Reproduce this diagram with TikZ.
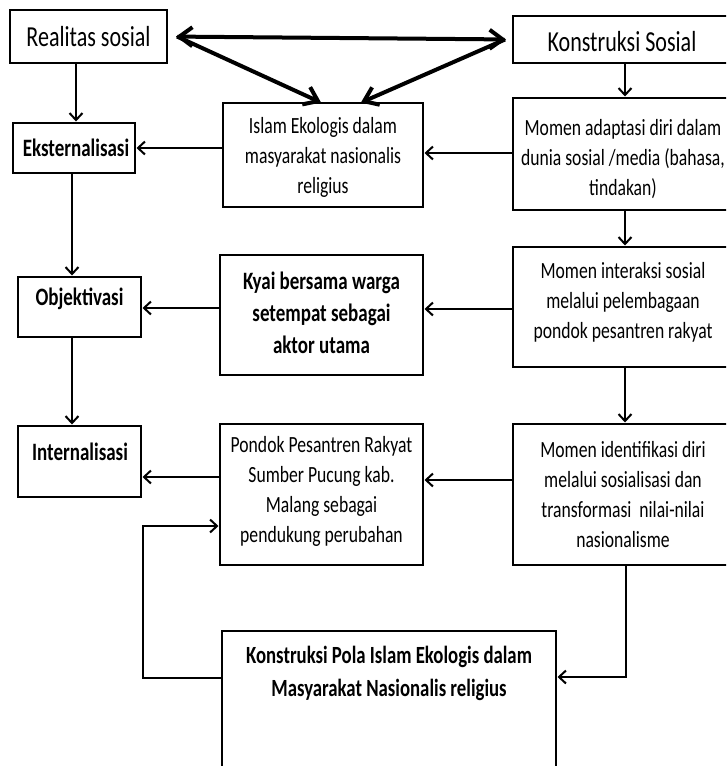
\documentclass[tikz,border=0pt]{standalone}
\usepackage{fontspec}
\setmainfont{Carlito}[FakeStretch=0.76]
\usetikzlibrary{arrows.meta}
\begin{document}
\begin{tikzpicture}[x=1pt,y=-1pt,
  box/.style={draw, line width=1.6pt, inner sep=0pt, outer sep=0pt, anchor=north west},
  boldbox/.style={box, line width=2.5pt},
  bigbox/.style={box, line width=2pt},
  toptxt/.style={align=center, inner sep=0pt, font=\fontsize{29}{34}\selectfont},
  txt/.style={align=center, inner sep=0pt, font=\fontsize{23.2}{30}\selectfont},
  boldtxt/.style={align=center, inner sep=0pt, font=\fontsize{25}{32}\selectfont\bfseries},
  arr/.style={line width=2pt, shorten >=1.5pt, -{Straight Barb[length=7pt,width=13pt,line width=2pt]}},
  fb/.style={line width=2pt, -{Straight Barb[length=7pt,width=13pt,line width=2pt]}},
  bigtip/.tip={Straight Barb[length=13pt,width=19pt,line width=4pt]},
  thickarr/.style={line width=4pt, line join=miter}
]
\clip (0,0) rectangle (726,766);
\fill[white] (0,0) rectangle (726,766);

% boxes
\node[box, minimum width=157pt, minimum height=53pt] (rs) at (10,10) {};
\node[box, minimum width=220pt, minimum height=47pt] (ks) at (513,16) {};
\node[boldbox, minimum width=122pt, minimum height=50pt] (ek) at (13,123) {};
\node[box, minimum width=200pt, minimum height=104pt] (ie) at (223,103) {};
\node[box, minimum width=220pt, minimum height=112pt] (ma) at (513,98) {};
\node[boldbox, minimum width=123pt, minimum height=60pt] (ob) at (18,277) {};
\node[box, minimum width=203pt, minimum height=120pt] (ky) at (220,255) {};
\node[box, minimum width=220pt, minimum height=120pt] (mi) at (513,247) {};
\node[boldbox, minimum width=123pt, minimum height=71pt] (in) at (18,426) {};
\node[box, minimum width=203pt, minimum height=141pt] (pp) at (220,424) {};
\node[box, minimum width=220pt, minimum height=141pt] (mid) at (513,424) {};
\node[bigbox, minimum width=334pt, minimum height=160pt] (kp) at (222,631) {};

% texts
\node[toptxt] (trs) at (88.5,37) {Realitas sosial};
\node[toptxt] (tks) at (622,42) {Konstruksi Sosial};
\node[boldtxt] (tek) at (76,148) {Eksternalisasi};
\node[txt] (tie) at (323,157) {Islam Ekologis dalam\\masyarakat nasionalis\\religius};
\node[txt] (tma) at (623,159) {Momen adaptasi diri dalam\\dunia sosial /media (bahasa,\\tindakan)};
\node[boldtxt] (tob) at (79.5,299) {Objektivasi};
\node[boldtxt] (tky) at (321.5,313) {Kyai bersama warga\\setempat sebagai\\aktor utama};
\node[txt] (tmi) at (623,302) {Momen interaksi sosial\\melalui pelembagaan\\pondok pesantren rakyat};
\node[boldtxt] (tin) at (80,452) {Internalisasi};
\node[txt] (tpp) at (321.5,491) {Pondok Pesantren Rakyat\\Sumber Pucung kab.\\Malang sebagai\\pendukung perubahan};
\node[txt] (tmid) at (623,495) {Momen identifikasi diri\\melalui sosialisasi dan\\transformasi\ \ nilai-nilai\\nasionalisme};
\node[boldtxt, font=\fontsize{24.7}{33}\selectfont\bfseries] (tkp) at (389,673) {Konstruksi Pola Islam Ekologis dalam\\Masyarakat Nasionalis religius};

% thick top arrows
\draw[thickarr, bigtip-bigtip, shorten <=9pt, shorten >=7pt] (rs.east) -- (ks.west);
\draw[thickarr, -bigtip, shorten >=1pt] ([xshift=10pt]rs.east) -- ([xshift=-1pt]ie.north);
\draw[thickarr, -bigtip, shorten >=1pt] ([xshift=-8pt]ks.west) -- ([xshift=37pt]ie.north);

% left column
\draw[arr] (rs.south -| 76,0) -- (ek.north -| 76,0);
\draw[arr] (ek.south -| 72,0) -- (ob.north -| 72,0);
\draw[arr] (ob.south -| 72,0) -- (in.north -| 72,0);
% right column
\draw[arr] (ks.south -| 625,0) -- (ma.north -| 625,0);
\draw[arr] (ma.south -| 625,0) -- (mi.north -| 625,0);
\draw[arr] (mi.south -| 625,0) -- (mid.north -| 625,0);
% horizontal
\draw[arr] (ie.west |- 0,148) -- (ek.east |- 0,148);
\draw[arr] (ma.west |- 0,153) -- (ie.east |- 0,153);
\draw[arr] (ky.west |- 0,308) -- (ob.east |- 0,308);
\draw[arr] (mi.west |- 0,309) -- (ky.east |- 0,309);
\draw[arr] (pp.west |- 0,477) -- (in.east |- 0,477);
\draw[arr] (mid.west |- 0,480) -- (pp.east |- 0,480);
% feedback
\draw[arr] (mid.south -| 626,0) |- (kp.east |- 0,677);
\draw[arr] (kp.west |- 0,678) -- ++(-79,0) |- (pp.west |- 0,526);
\end{tikzpicture}
\end{document}
